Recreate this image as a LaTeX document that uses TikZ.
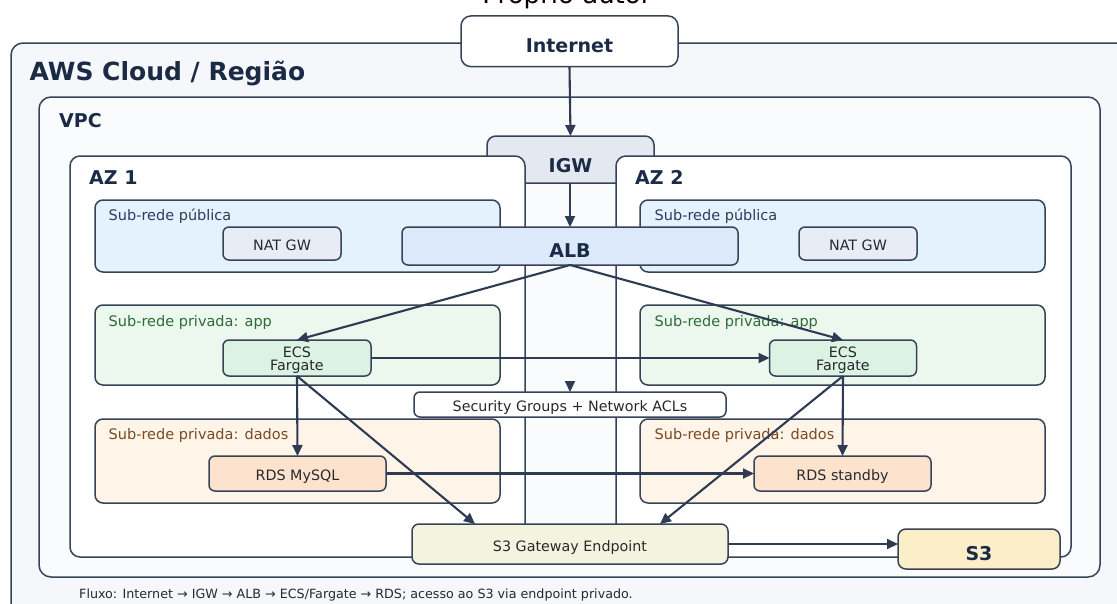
\documentclass[tikz,border=0pt]{standalone}
\usepackage{fontspec}
\setmainfont{DejaVu Sans}
\usetikzlibrary{arrows.meta,calc}
\definecolor{strokec}{HTML}{374357}
\definecolor{arrowc}{HTML}{2E3B52}
\definecolor{titlec}{HTML}{1C2B45}
\definecolor{textc}{HTML}{26292E}
\definecolor{awsfill}{HTML}{F5F7FB}
\definecolor{vpcfill}{HTML}{F9FBFD}
\definecolor{pubfill}{HTML}{E4F2FD}
\definecolor{appfill}{HTML}{ECF7EE}
\definecolor{datafill}{HTML}{FEF4E8}
\definecolor{natfill}{HTML}{E8ECF4}
\definecolor{ecsfill}{HTML}{DCF3E4}
\definecolor{rdsfill}{HTML}{FDE3CD}
\definecolor{albfill}{HTML}{DBE9FB}
\definecolor{igwfill}{HTML}{E4E8F0}
\definecolor{gwfill}{HTML}{F4F3E0}
\definecolor{s3fill}{HTML}{FBEEC8}
\definecolor{publab}{HTML}{2B3D5C}
\definecolor{applab}{HTML}{2E6A3C}
\definecolor{datalab}{HTML}{7A4A22}
\tikzset{
  cont/.style={draw=strokec, line width=1.5pt, inner sep=0pt, outer sep=0pt},
  boxbase/.style={draw=strokec, line width=1.5pt, rounded corners=6pt, inner sep=0pt, outer sep=0pt,
    align=center, text=textc, font=\fontsize{14.3}{13.5}\selectfont},
  box/.style={boxbase, text height=14.4pt, text depth=0pt},
  bigbox/.style={boxbase, font=\bfseries\fontsize{19}{22}\selectfont, text=titlec, text height=22pt, text depth=0pt},
  title/.style={anchor=base west, inner sep=0pt, text=titlec, font=\bfseries\fontsize{19}{22}\selectfont},
  sublabel/.style={anchor=base west, inner sep=0pt, font=\fontsize{14.5}{16}\selectfont},
  arr/.style={draw=arrowc, line width=2.1pt, -{Triangle[length=11pt,width=10pt]}},
}
\begin{document}
\begin{tikzpicture}[x=1pt,y=-1pt]
\useasboundingbox (0,0) rectangle (1117,603);
% caption cut at top
\node[anchor=base, inner sep=0pt, font=\fontsize{26}{30}\selectfont, text=black] (credit) at (567,3) {Próprio autor};
% containers
\node[cont, fill=awsfill, rounded corners=12pt, minimum width=1135pt, minimum height=590pt] (aws) at (578.5,338) {};
\node[title, font=\bfseries\fontsize{25}{28}\selectfont] (awst) at (29.5,80) {AWS Cloud / Região};
\node[cont, fill=vpcfill, rounded corners=12pt, minimum width=1061pt, minimum height=480pt] (vpc) at (569.5,337) {};
\node[title] (vpct) at (59,127) {VPC};
\node[cont, fill=igwfill, rounded corners=9pt, minimum width=167pt, minimum height=47pt] (igw) at (570.5,159.5) {};
\node[inner sep=0pt, anchor=base, text=titlec, font=\bfseries\fontsize{19}{22}\selectfont] (igwt) at (570.5,172) {IGW};
\node[cont, fill=white, rounded corners=10pt, minimum width=455pt, minimum height=401pt] (az1) at (297.5,356.5) {};
\node[cont, fill=white, rounded corners=10pt, minimum width=455pt, minimum height=401pt] (az2) at (843.5,356.5) {};
\node[title] (az1t) at (89,184) {AZ 1};
\node[title] (az2t) at (635,184) {AZ 2};
% subnets AZ1
\node[cont, fill=pubfill, rounded corners=8pt, minimum width=405pt, minimum height=72pt] (pub1) at (297.5,236) {};
\node[sublabel, text=publab] (pub1t) at (108.5,220.5) {Sub-rede pública};
\node[cont, fill=appfill, rounded corners=8pt, minimum width=405pt, minimum height=80pt] (app1) at (297.5,345) {};
\node[sublabel, text=applab] (app1t) at (108.5,326) {Sub-rede privada: app};
\node[cont, fill=datafill, rounded corners=8pt, minimum width=405pt, minimum height=84pt] (dat1) at (297.5,461) {};
\node[sublabel, text=datalab] (dat1t) at (108.5,439) {Sub-rede privada: dados};
% subnets AZ2
\node[cont, fill=pubfill, rounded corners=8pt, minimum width=405pt, minimum height=72pt] (pub2) at (842.5,236) {};
\node[sublabel, text=publab] (pub2t) at (654.5,220.5) {Sub-rede pública};
\node[cont, fill=appfill, rounded corners=8pt, minimum width=405pt, minimum height=80pt] (app2) at (842.5,345) {};
\node[sublabel, text=applab] (app2t) at (654.5,326) {Sub-rede privada: app};
\node[cont, fill=datafill, rounded corners=8pt, minimum width=405pt, minimum height=84pt] (dat2) at (842.5,461) {};
\node[sublabel, text=datalab] (dat2t) at (654.5,439) {Sub-rede privada: dados};
% services
\node[box, fill=natfill, minimum width=118pt, minimum height=33pt] (nat1) at (282,243.5) {NAT GW};
\node[box, fill=natfill, minimum width=118pt, minimum height=33pt] (nat2) at (858,243.5) {NAT GW};
\node[boxbase, fill=ecsfill, minimum width=148pt, minimum height=36pt] (ecs1) at (297,358) {\rule{0pt}{15.4pt}ECS\\Fargate};
\node[boxbase, fill=ecsfill, minimum width=147pt, minimum height=36pt] (ecs2) at (843,358) {\rule{0pt}{15.4pt}ECS\\Fargate};
\node[box, fill=rdsfill, minimum width=177pt, minimum height=35pt] (rds1) at (297.5,473.5) {RDS MySQL};
\node[box, fill=rdsfill, minimum width=177pt, minimum height=35pt] (rds2) at (842.5,473.5) {RDS standby};
\node[bigbox, fill=albfill, minimum width=336pt, minimum height=38pt] (alb) at (570,246) {ALB};
\node[box, fill=white, minimum width=312pt, minimum height=25pt] (sg) at (570,404.5) {Security Groups + Network ACLs};
\node[box, fill=gwfill, rounded corners=7pt, minimum width=316pt, minimum height=40pt] (s3gw) at (570,544) {S3 Gateway Endpoint};
\node[bigbox, fill=s3fill, rounded corners=8pt, minimum width=162pt, minimum height=40pt] (s3) at (979,549) {S3};
\node[bigbox, fill=white, rounded corners=10pt, minimum width=217pt, minimum height=50.7pt] (inet) at (569.5,41.3) {Internet};
% footer
\node[anchor=base west, inner sep=0pt, text=textc, font=\fontsize{12.7}{14}\selectfont] (foot) at (79,598) {Fluxo: Internet → IGW → ALB → ECS/Fargate → RDS; acesso ao S3 via endpoint privado.};
% connectors
\coordinate (sgin) at (570,381.5);
\coordinate (gwl) at ($(s3gw.north)+(-95,0)$);
\coordinate (gwr) at ($(s3gw.north)+(90,0)$);
\draw[arr] (inet.south) -- (igw.north);
\draw[arr] (570,183) coordinate (igwb) -- (alb.north);
\draw[arr] (alb.south) -- (ecs1.north);
\draw[arr] (alb.south) -- (ecs2.north);
\draw[arr] (ecs1.east) -- (ecs2.west);
\draw[arr] (ecs1.south) -- (rds1.north);
\draw[arr] (ecs2.south) -- (rds2.north);
\draw[arr] (rds1.east) -- (rds2.west);
\draw[arr] (ecs1.south) -- (gwl);
\draw[arr] (ecs2.south) -- (gwr);
\draw[arr] (s3gw.east) -- (s3gw.east -| s3.west);
\draw[arr] (sgin) -- (sg.north);
\end{tikzpicture}
\end{document}
